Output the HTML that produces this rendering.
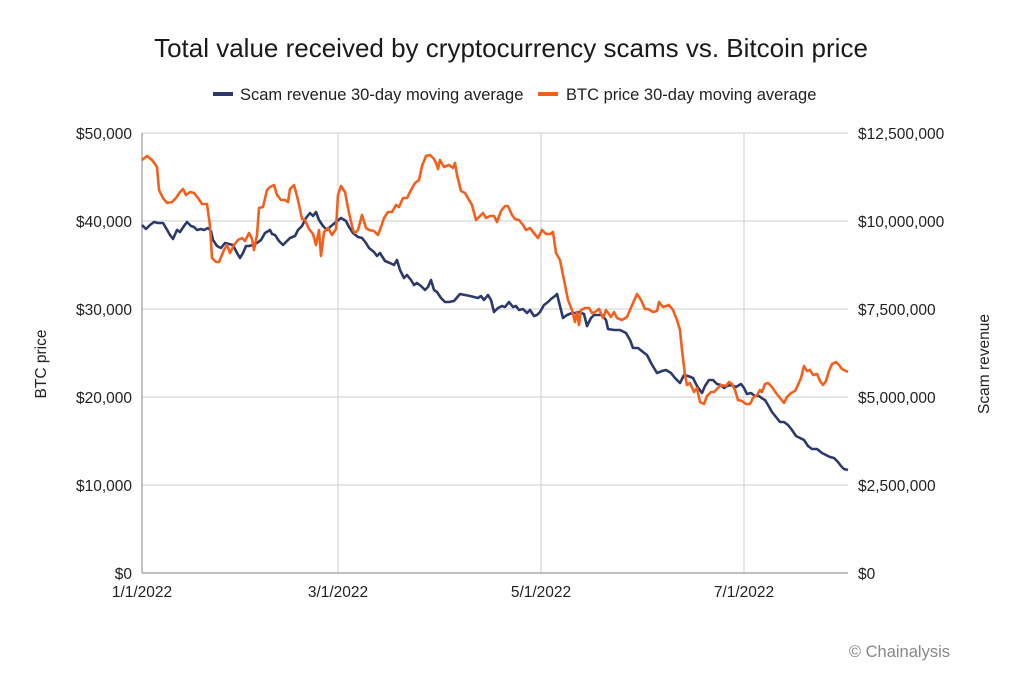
<!DOCTYPE html>
<html><head><meta charset="utf-8"><style>
html,body{margin:0;padding:0;background:#fff;width:1024px;height:676px;overflow:hidden}
svg{display:block;font-family:"Liberation Sans",sans-serif}
</style></head><body>
<svg width="1024" height="676" viewBox="0 0 1024 676" xmlns="http://www.w3.org/2000/svg">
<text x="511" y="57" text-anchor="middle" font-size="26" fill="#1a1a1a">Total value received by cryptocurrency scams vs. Bitcoin price</text>
<rect x="213" y="92" width="20" height="4" fill="#2b3a6b"/>
<text x="240" y="100" font-size="16.5" fill="#222">Scam revenue 30-day moving average</text>
<rect x="538" y="92" width="20" height="4" fill="#f4601c"/>
<text x="566" y="100" font-size="16.5" fill="#222">BTC price 30-day moving average</text>
<g stroke="#d6d6d6" stroke-width="1.2">
<line x1="142" y1="133" x2="848" y2="133"/><line x1="142" y1="221" x2="848" y2="221"/>
<line x1="142" y1="309" x2="848" y2="309"/><line x1="142" y1="397" x2="848" y2="397"/>
<line x1="142" y1="485" x2="848" y2="485"/>
<line x1="338" y1="133" x2="338" y2="573"/><line x1="541" y1="133" x2="541" y2="573"/><line x1="744" y1="133" x2="744" y2="573"/>
</g>
<line x1="142" y1="133" x2="142" y2="573" stroke="#999" stroke-width="1.2"/>
<line x1="142" y1="573" x2="848" y2="573" stroke="#999" stroke-width="1.2"/>
<g font-size="15.5" fill="#222" text-anchor="end">
<text x="132" y="139">$50,000</text><text x="132" y="227">$40,000</text><text x="132" y="315">$30,000</text>
<text x="132" y="403">$20,000</text><text x="132" y="491">$10,000</text><text x="132" y="579">$0</text>
</g>
<g font-size="15.5" fill="#222">
<text x="858" y="139">$12,500,000</text><text x="858" y="227">$10,000,000</text><text x="858" y="315">$7,500,000</text>
<text x="858" y="403">$5,000,000</text><text x="858" y="491">$2,500,000</text><text x="858" y="579">$0</text>
</g>
<g font-size="15.5" fill="#222" text-anchor="middle">
<text x="142" y="597">1/1/2022</text><text x="338" y="597">3/1/2022</text><text x="541" y="597">5/1/2022</text><text x="744" y="597">7/1/2022</text>
</g>
<text transform="translate(46,364) rotate(-90)" font-size="15.5" fill="#222" text-anchor="middle">BTC price</text>
<text transform="translate(989,364) rotate(-90)" font-size="15.5" fill="#222" text-anchor="middle">Scam revenue</text>
<text x="950" y="657" font-size="16.5" fill="#888" text-anchor="end">© Chainalysis</text>
<polyline fill="none" stroke="#2b3a6b" stroke-width="2.6" stroke-linejoin="round" points="142,225 146,229 150,225 154,222 158,223 163,223 166,228 170,235 173,239 177,230 180,232 184,226 187,222 191,226 194,227 197,230 201,229 204,230 208,228 211,231 213,240 217,246 221,248 225,243 229,244 233,245 237,253 240,258 243,253 246,246 249,246 253,245 257,243 261,240 265,233 270,230 272,234 275,235 279,241 283,245 286,242 290,238 295,236 298,230 302,226 306,218 310,213 313,216 316,212 319,220 323,226 327,230 330,227 336,222 341,218 346,221 349,227 353,233 358,237 362,238 366,243 369,248 374,252 377,256 380,253 385,261 390,263 394,265 397,260 400,270 404,278 407,275 411,280 414,285 417,283 421,286 425,290 428,287 431,280 434,290 437,292 441,298 445,302 449,302 454,301 460,294 465,295 470,296 474,297 478,298 481,296 484,300 488,295 491,300 494,312 498,308 502,306 505,307 509,302 513,307 516,306 519,310 523,309 527,313 530,310 534,316 537,315 540,312 544,305 548,302 551,299 555,296 557,294 561,310 563,318 567,315 572,313 575,313 579,312 584,314 587,326 591,318 594,315 598,315 602,315 606,320 608,329 614,330 620,330 626,333 630,340 633,348 638,348 643,352 647,355 651,363 657,373 662,371 666,370 671,373 675,378 680,383 684,375 688,376 693,378 697,386 702,393 705,386 709,380 713,380 717,384 721,385 724,388 727,386 731,385 736,387 741,384 744,388 747,394 751,393 755,396 759,396 763,399 765,400 768,405 772,412 776,417 780,422 784,422 788,425 792,430 796,436 800,438 804,440 808,446 812,449 817,449 822,453 826,455 830,457 834,458 838,462 841,466 844,469 848,470"/>
<polyline fill="none" stroke="#f4601c" stroke-width="2.6" stroke-linejoin="round" points="142,160 147,156 152,160 157,167 159,190 163,198 167,203 172,202 176,198 180,192 183,189 186,195 190,192 194,193 198,198 202,204 207,204 210,226 212,258 216,262 219,262 224,250 227,245 230,253 234,245 238,240 242,238 245,241 249,233 252,239 254,250 257,235 259,208 263,207 267,190 270,187 274,185 277,195 281,200 285,200 288,202 290,189 294,185 298,200 302,219 305,220 309,229 313,234 316,245 319,230 321,256 324,232 328,228 332,235 336,229 338,195 341,186 345,192 349,213 353,230 355,233 358,230 362,215 366,228 369,230 374,231 378,235 381,227 384,218 388,212 392,212 396,205 399,207 403,198 407,198 411,190 415,183 419,180 422,166 426,156 430,155 434,159 436,163 438,169 440,160 444,167 449,165 453,168 455,163 457,175 461,191 465,193 469,200 472,205 476,220 479,217 483,213 486,218 490,216 494,216 497,222 501,211 505,206 508,206 512,215 515,219 519,220 523,225 526,230 530,228 533,232 538,238 542,230 546,234 550,234 553,232 556,253 560,260 564,280 568,300 572,310 575,322 577,312 579,325 581,310 585,308 589,308 592,313 595,312 599,309 603,318 606,310 611,317 614,312 617,318 622,320 627,317 630,310 637,294 641,300 645,309 648,309 653,312 657,311 659,302 663,307 666,306 669,305 673,310 677,320 680,330 682,350 685,375 687,385 690,383 694,392 697,388 700,402 704,404 707,396 711,392 714,392 718,388 721,385 726,386 729,382 732,384 735,390 738,400 742,401 746,404 750,404 753,398 757,395 760,390 762,392 765,384 768,383 772,387 776,393 780,398 784,403 787,397 791,393 795,391 798,385 801,378 804,366 807,371 810,370 813,375 817,374 820,381 823,385 826,381 829,371 832,364 836,362 839,365 842,369 848,372"/>
</svg>
</body></html>
